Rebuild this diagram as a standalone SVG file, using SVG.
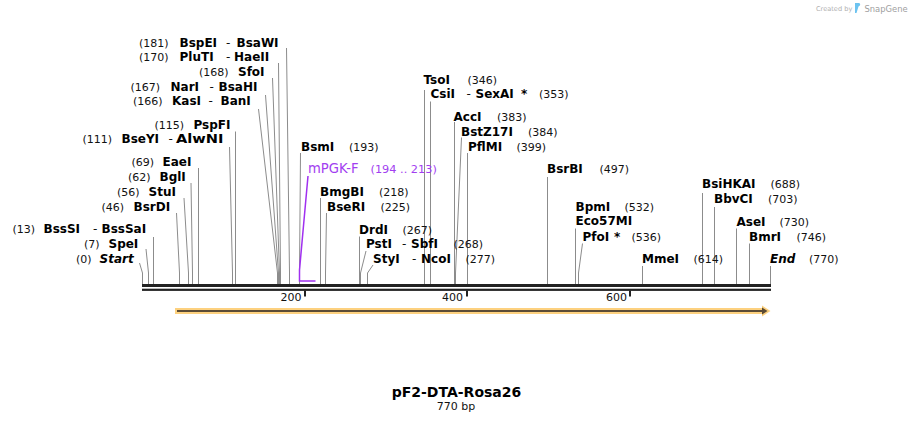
<svg xmlns="http://www.w3.org/2000/svg" width="913" height="423" viewBox="0 0 913 423">
<style>
text{font-family:"DejaVu Sans","Liberation Sans",sans-serif;fill:#111}
.n{font-size:11px}
.d{font-size:12px}
.b{font-size:12px;font-weight:bold;fill:#000}
.i{font-size:12px;font-weight:bold;font-style:italic;fill:#000}
.p{fill:#a23ef0}
.c{fill:none;stroke:#8c8c8c;stroke-width:1}
.pc{fill:none;stroke:#a030f0;stroke-width:1.5}
.t{font-size:11px;text-anchor:end}
</style>
<rect width="913" height="423" fill="#fff"/>

<g id="credit">
<text x="816" y="10.5" style="font-size:6.6px;fill:#b0b0b0">Created by</text>
<path d="M855 3h3.5c2 0 2.5 2.5 0 3.5L856.5 13h-1.5z" fill="#6cc3f0"/>
<text x="864.5" y="11.5" style="font-size:8.4px;fill:#a0a0a0">SnapGene</text>
</g>

<g id="backbone">
<rect x="142" y="284" width="629" height="3" fill="#222"/>
<rect x="142" y="288.7" width="629" height="2.2" fill="#222"/>
<rect x="304" y="290.5" width="2" height="6" fill="#222"/>
<rect x="466" y="290.5" width="2" height="6" fill="#222"/>
<rect x="629" y="290.5" width="2" height="6" fill="#222"/>
<text class="t" x="301.5" y="301">200</text>
<text class="t" x="463" y="301">400</text>
<text class="t" x="627" y="301">600</text>
</g>

<g id="feature-arrow">
<polygon points="175,308 762,308 762,305.5 770.5,311 762,316.5 762,314 175,314" fill="#fdd17f"/>
<rect x="177" y="310" width="586" height="2" fill="#5b4b35"/>
<polygon points="762,307.5 767.5,311 762,314.5" fill="#5b4b35"/>
</g>

<g id="connectors">
<polyline class="c" points="286.5,48 289.5,273 289.5,284"/>
<polyline class="c" points="278.5,63 280.5,273 280.5,284"/>
<polyline class="c" points="272.5,78 279.5,273 279.5,284"/>
<polyline class="c" points="265.5,95 278.5,273 278.5,284"/>
<polyline class="c" points="258.5,109 277.5,273 277.5,284"/>
<polyline class="c" points="235.5,131.5 235.5,284"/>
<polyline class="c" points="229.5,147 232.5,273 232.5,284"/>
<polyline class="c" points="198.5,168 198.5,284"/>
<polyline class="c" points="191,183 192.5,273 192.5,284"/>
<polyline class="c" points="184,198 188.5,273 188.5,284"/>
<polyline class="c" points="176.5,213 179.5,273 179.5,284"/>
<polyline class="c" points="153.5,237 153.5,284"/>
<polyline class="c" points="146,249 148.5,273 148.5,284"/>
<polyline class="c" points="139.5,263 142.5,273 142.5,284"/>
<polyline class="c" points="300.5,153 299.5,273 299.5,284"/>
<polyline class="c" points="320.5,198 320.5,284"/>
<polyline class="c" points="326.5,213 325.5,273 325.5,284"/>
<polyline class="c" points="359.5,236.5 359.5,284"/>
<polyline class="c" points="366,251 360.5,273 360.5,284"/>
<polyline class="c" points="373,265 367.5,273 367.5,284"/>
<polyline class="c" points="424.5,90 424.5,284"/>
<polyline class="c" points="430.5,101.5 430.5,284"/>
<polyline class="c" points="454.5,122 454.5,284"/>
<polyline class="c" points="461.5,137.5 455.5,273 455.5,284"/>
<polyline class="c" points="467.5,153 467.5,284"/>
<polyline class="c" points="547.5,177 547.5,284"/>
<polyline class="c" points="575.5,228.5 575.5,284"/>
<polyline class="c" points="582.5,243.5 578.5,273 578.5,284"/>
<polyline class="c" points="642.5,266 642.5,284"/>
<polyline class="c" points="702.5,193 702.5,284"/>
<polyline class="c" points="714.5,207 714.5,284"/>
<polyline class="c" points="736.5,228.5 736.5,284"/>
<polyline class="c" points="749.5,243.5 749.5,284"/>
<polyline class="c" points="770.5,266 770.5,284"/>
<polyline class="pc" points="308,176 299.5,270 299.5,281 315.5,281"/>
</g>

<g id="BspEI"><text class="n" x="139" y="46.5">(181)</text><text class="b" x="179.5" y="46.5">BspEI</text><text class="d" x="226" y="46.5">-</text><text class="b" x="236.5" y="46.5">BsaWI</text></g>
<g id="PluTI"><text class="n" x="139" y="61">(170)</text><text class="b" x="179.5" y="61">PluTI</text><text class="d" x="226" y="61">-</text><text class="b" x="234" y="61">HaeII</text></g>
<g id="SfoI"><text class="n" x="199" y="75.7">(168)</text><text class="b" x="238" y="75.7">SfoI</text></g>
<g id="NarI"><text class="n" x="130.5" y="91">(167)</text><text class="b" x="170.5" y="91">NarI</text><text class="d" x="209.5" y="91">-</text><text class="b" x="218.5" y="91">BsaHI</text></g>
<g id="KasI"><text class="n" x="133" y="105">(166)</text><text class="b" x="172" y="105">KasI</text><text class="d" x="208.5" y="105">-</text><text class="b" x="220.5" y="105">BanI</text></g>
<g id="PspFI"><text class="n" x="154.5" y="129">(115)</text><text class="b" x="193.5" y="129">PspFI</text></g>
<g id="BseYI"><text class="n" x="82.5" y="143.3">(111)</text><text class="b" x="121.5" y="143.3">BseYI</text><text class="d" x="168.5" y="143.3">-</text><text class="b" x="176" y="143.3" textLength="47.5" lengthAdjust="spacingAndGlyphs">AlwNI</text></g>
<g id="EaeI"><text class="n" x="131.5" y="166">(69)</text><text class="b" x="162.5" y="166">EaeI</text></g>
<g id="BglI"><text class="n" x="128" y="180.7">(62)</text><text class="b" x="159.5" y="180.7">BglI</text></g>
<g id="StuI"><text class="n" x="117" y="195.7">(56)</text><text class="b" x="148.5" y="195.7">StuI</text></g>
<g id="BsrDI"><text class="n" x="101.5" y="210.7">(46)</text><text class="b" x="133.5" y="210.7">BsrDI</text></g>
<g id="BssSI"><text class="n" x="12.5" y="233.3">(13)</text><text class="b" x="43.5" y="233.3">BssSI</text><text class="d" x="93" y="233.3">-</text><text class="b" x="101.5" y="233.3">BssSaI</text></g>
<g id="SpeI"><text class="n" x="84" y="248.3">(7)</text><text class="b" x="108.5" y="248.3">SpeI</text></g>
<g id="Start"><text class="n" x="76" y="263.3">(0)</text><text class="i" x="99.5" y="263.3">Start</text></g>

<g id="TsoI"><text class="b" x="423.5" y="84">TsoI</text><text class="n" x="467.5" y="84">(346)</text></g>
<g id="CsiI"><text class="b" x="430.5" y="98.3">CsiI</text><text class="d" x="466.5" y="98.3">-</text><text class="b" x="475.5" y="98.3">SexAI</text><text class="b" x="521" y="98.3">*</text><text class="n" x="539" y="98.3">(353)</text></g>
<g id="AccI"><text class="b" x="453.5" y="121">AccI</text><text class="n" x="497" y="121">(383)</text></g>
<g id="BstZ17I"><text class="b" x="461" y="135.7">BstZ17I</text><text class="n" x="528" y="135.7">(384)</text></g>
<g id="PflMI"><text class="b" x="468" y="150.7">PflMI</text><text class="n" x="516.5" y="150.7">(399)</text></g>
<g id="BsmI"><text class="b" x="301" y="150.7">BsmI</text><text class="n" x="349" y="150.7">(193)</text></g>
<g id="mPGK-F"><text class="p" x="308" y="173.3" style="font-size:13.2px">mPGK-F</text><text class="p" x="370.5" y="173.3" style="font-size:11.3px">(194 .. 213)</text></g>
<g id="BmgBI"><text class="b" x="320" y="195.7">BmgBI</text><text class="n" x="379" y="195.7">(218)</text></g>
<g id="BseRI"><text class="b" x="327" y="210.7">BseRI</text><text class="n" x="380.5" y="210.7">(225)</text></g>
<g id="DrdI"><text class="b" x="359" y="234">DrdI</text><text class="n" x="402.5" y="234">(267)</text></g>
<g id="PstI"><text class="b" x="366" y="248.3">PstI</text><text class="d" x="402" y="248.3">-</text><text class="b" x="411" y="248.3">SbfI</text><text class="n" x="453.5" y="248.3">(268)</text></g>
<g id="StyI"><text class="b" x="373" y="263.3">StyI</text><text class="d" x="412" y="263.3">-</text><text class="b" x="421" y="263.3">NcoI</text><text class="n" x="465.5" y="263.3">(277)</text></g>
<g id="BsrBI"><text class="b" x="547" y="173.3">BsrBI</text><text class="n" x="599.5" y="173.3">(497)</text></g>
<g id="BsiHKAI"><text class="b" x="702" y="188.3">BsiHKAI</text><text class="n" x="770.5" y="188.3">(688)</text></g>
<g id="BbvCI"><text class="b" x="714" y="203.3">BbvCI</text><text class="n" x="768" y="203.3">(703)</text></g>
<g id="BpmI"><text class="b" x="575.5" y="210.7">BpmI</text><text class="n" x="624.5" y="210.7">(532)</text><text class="b" x="575.5" y="225">Eco57MI</text></g>
<g id="AseI"><text class="b" x="736.5" y="225.7">AseI</text><text class="n" x="779.5" y="225.7">(730)</text></g>
<g id="PfoI"><text class="b" x="582.5" y="240.7">PfoI</text><text class="b" x="614" y="240.7">*</text><text class="n" x="631.5" y="240.7">(536)</text></g>
<g id="BmrI"><text class="b" x="749" y="240.7">BmrI</text><text class="n" x="796.5" y="240.7">(746)</text></g>
<g id="MmeI"><text class="b" x="642" y="263.3">MmeI</text><text class="n" x="693.5" y="263.3">(614)</text></g>
<g id="End"><text class="i" x="770" y="263.3">End</text><text class="n" x="809" y="263.3">(770)</text></g>

<g id="title">
<text x="456.5" y="397.3" text-anchor="middle" style="font-size:14px;font-weight:bold;fill:#000">pF2-DTA-Rosa26</text>
<text x="456" y="410" text-anchor="middle" class="n">770 bp</text>
</g>
</svg>
